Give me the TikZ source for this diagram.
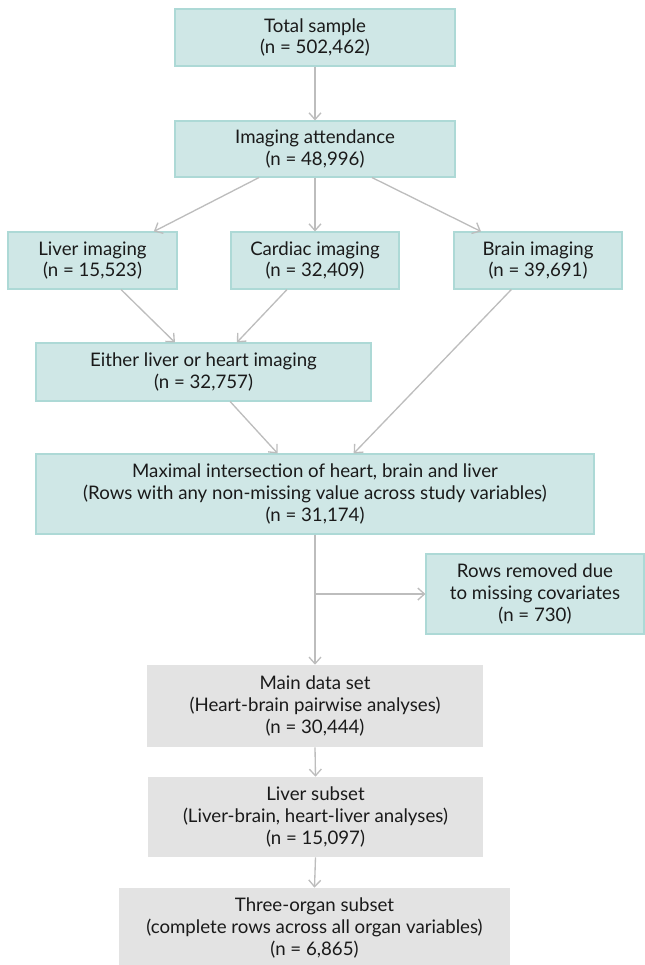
\documentclass[tikz,border=0pt]{standalone}
\usepackage{fontspec}
\setmainfont{Lato}
\usepackage{tikz}
\usetikzlibrary{arrows.meta}

\definecolor{tealfill}{HTML}{CFE7E6}
\definecolor{tealline}{HTML}{ADD9D6}
\definecolor{greyfill}{HTML}{E3E3E3}
\definecolor{arrowgrey}{HTML}{BDBDBD}
\definecolor{textcol}{HTML}{1A1A1A}

\begin{document}
\begin{tikzpicture}[x=0.75pt,y=-0.75pt,
  every node/.style={font=\fontsize{14}{16.2}\selectfont, text=textcol, align=center, inner sep=0pt},
  tealbox/.style={fill=tealfill, draw=tealline, line width=0.8pt},
  greybox/.style={fill=greyfill},
  arr/.style={draw=arrowgrey, line width=1pt, -{Straight Barb[length=5pt,width=9pt]}}]

\useasboundingbox (0,0) rectangle (644,965);

% sample selection
\node(total)[tealbox, minimum width=210pt, minimum height=42.75pt] at (315,37.5) {Total sample\\(n = 502,462)};
\node(attend)[tealbox, minimum width=210pt, minimum height=42pt] at (315,149) {Imaging attendance\\(n = 48,996)};

\node(liver)[tealbox, minimum width=126.75pt, minimum height=42.75pt] at (92.5,260.5) {Liver imaging\\(n = 15,523)};
\node(cardiac)[tealbox, minimum width=126pt, minimum height=42.75pt] at (315,260.5) {Cardiac imaging\\(n = 32,409)};
\node(brain)[tealbox, minimum width=126pt, minimum height=42.75pt] at (538,260.5) {Brain imaging\\(n = 39,691)};

\node(either)[tealbox, minimum width=251.25pt, minimum height=43.5pt] at (203.5,372) {Either liver or heart imaging\\(n = 32,757)};
\node(maximal)[tealbox, minimum width=418.5pt, minimum height=60pt] at (315,494) {Maximal intersection of heart, brain and liver\\(Rows with any non-missing value across study variables)\\(n = 31,174)};

\node(removed)[tealbox, minimum width=163.5pt, minimum height=60pt] at (535,594) {Rows removed due\\to missing covariates\\(n = 730)};

% analysis sets
\node(main)[greybox, minimum width=252pt, minimum height=61.5pt] at (315,706) {Main data set\\(Heart-brain pairwise analyses)\\(n = 30,444)};
\node(liversub)[greybox, minimum width=251.25pt, minimum height=60pt] at (315.5,817) {Liver subset\\(Liver-brain, heart-liver analyses)\\(n = 15,097)};
\node(three)[greybox, minimum width=293.25pt, minimum height=60pt] at (314.5,928) {Three-organ subset\\(complete rows across all organ variables)\\(n = 6,865)};

\coordinate(split) at (315,594);

\draw[arr] (total.south) -- (attend.north);
\draw[arr] ([xshift=-42pt]attend.south) -- ([xshift=46pt]liver.north);
\draw[arr] (attend.south) -- (cardiac.north);
\draw[arr] ([xshift=42.75pt]attend.south) -- ([xshift=-42.75pt]brain.north);

\draw[arr] ([xshift=21.4pt]liver.south) -- ([xshift=-21.4pt]either.north);
\draw[arr] ([xshift=-21pt]cardiac.south) -- ([xshift=25pt]either.north);
\draw[arr] ([xshift=20pt]either.south) -- ([xshift=-28pt]maximal.north);
\draw[arr] ([xshift=-20pt]brain.south) -- ([xshift=29pt]maximal.north);

\draw[arr] (maximal.south) -- (main.north);
\draw[arr] (split) -- (removed.west);
\draw[arr] (main.south) -- (liversub.north);
\draw[arr] (liversub.south) -- (three.north);

\end{tikzpicture}
\end{document}
